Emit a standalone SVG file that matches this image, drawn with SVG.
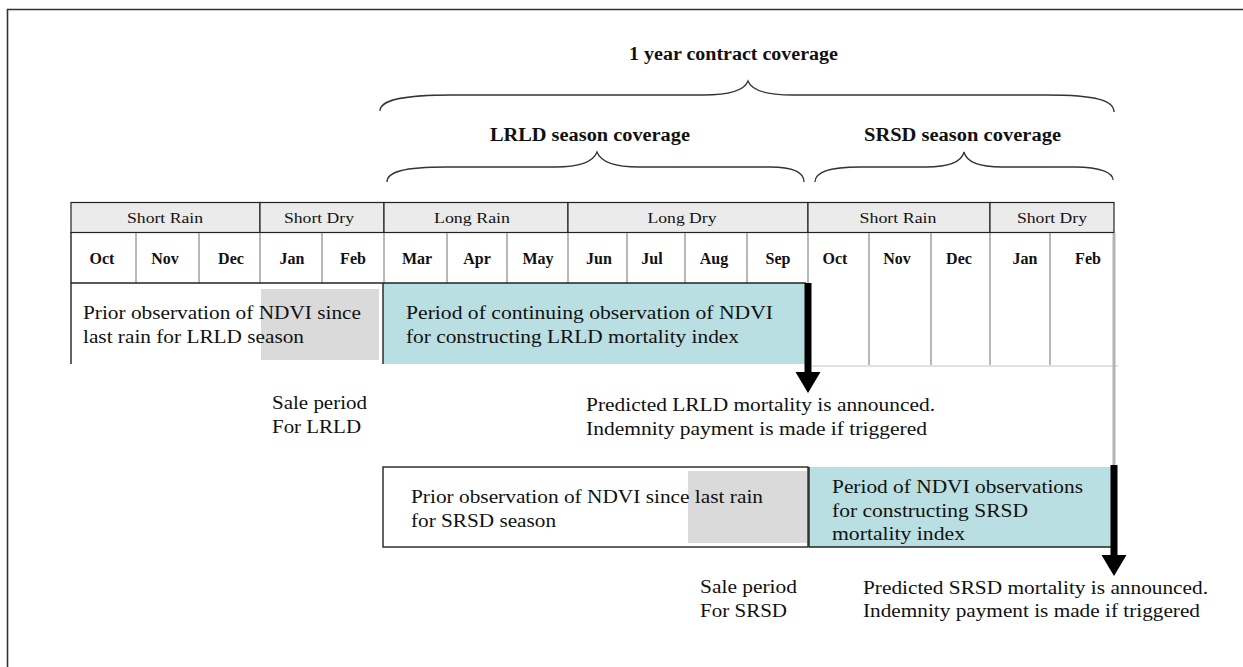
<svg xmlns="http://www.w3.org/2000/svg" width="1243" height="667" viewBox="0 0 1243 667">
<style>
  text { font-family: "Liberation Serif", "Times New Roman", serif; fill: #111; }
  .t { font-size: 18px; }
  .ttl { font-size: 18px; font-weight: bold; }
  .ssn { font-size: 15px; }
  .mon { font-size: 16px; font-weight: bold; }
  .hdr { fill: #ebebeb; stroke: #222; stroke-width: 1.2; }
  .grid { stroke: #a6a6a6; stroke-width: 1.6; }
  .blk { stroke: #222; stroke-width: 1.4; }
  .brace { fill: none; stroke: #333; stroke-width: 1.3; }
  .teal { fill: #b9dfe2; }
  .shade { fill: #dadada; }
</style>
<defs>
  <marker id="head" markerUnits="userSpaceOnUse" markerWidth="22" markerHeight="26" refX="0" refY="12.5" orient="auto">
    <path d="M0,0 L21,12.5 L0,25 z" fill="#000"/>
  </marker>
</defs>
<rect width="1243" height="667" fill="#fff"/>
<g id="frame">
  <line x1="7" y1="9.5" x2="1243" y2="9.5" stroke="#333" stroke-width="1.6"/>
  <line x1="7.5" y1="9" x2="7.5" y2="667" stroke="#333" stroke-width="1.6"/>
</g>

<g id="braces">
  <path class="brace" d="M380,111 C380,101 398,95 452,95 L703,95 C732,95 745,89 748,81 C751,89 764,95 793,95 L1046,95 C1098,95 1114,101 1114,112"/>
  <path class="brace" d="M387,182 C387,172 403,167 447,167 L555,167 C584,167 594,160 597,152 C600,160 610,167 639,167 L770,167 C795,167 804,173 804,182"/>
  <path class="brace" d="M815,182 C815,172 828,167 860,167 L926,167 C953,167 962,160 964,152 C966,160 975,167 1002,167 L1075,167 C1101,167 1113,173 1113,180"/>
  <text class="ttl" x="629" y="60" textLength="209" lengthAdjust="spacingAndGlyphs">1 year contract coverage</text>
  <text class="ttl" x="490" y="141" textLength="200" lengthAdjust="spacingAndGlyphs">LRLD season coverage</text>
  <text class="ttl" x="864" y="141" textLength="197" lengthAdjust="spacingAndGlyphs">SRSD season coverage</text>
</g>

<g id="seasons">
  <rect class="hdr" x="71" y="202.5" width="189" height="30"/>
  <rect class="hdr" x="260" y="202.5" width="124" height="30"/>
  <rect class="hdr" x="384" y="202.5" width="184" height="30"/>
  <rect class="hdr" x="568" y="202.5" width="240" height="30"/>
  <rect class="hdr" x="808" y="202.5" width="182" height="30"/>
  <rect class="hdr" x="990" y="202.5" width="124" height="30"/>
  <text class="ssn" x="165" y="223" text-anchor="middle" textLength="76" lengthAdjust="spacingAndGlyphs">Short Rain</text>
  <text class="ssn" x="319" y="223" text-anchor="middle" textLength="70" lengthAdjust="spacingAndGlyphs">Short Dry</text>
  <text class="ssn" x="472" y="223" text-anchor="middle" textLength="76" lengthAdjust="spacingAndGlyphs">Long Rain</text>
  <text class="ssn" x="682" y="223" text-anchor="middle" textLength="69" lengthAdjust="spacingAndGlyphs">Long Dry</text>
  <text class="ssn" x="898" y="223" text-anchor="middle" textLength="77" lengthAdjust="spacingAndGlyphs">Short Rain</text>
  <text class="ssn" x="1052" y="223" text-anchor="middle" textLength="70" lengthAdjust="spacingAndGlyphs">Short Dry</text>
</g>

<g id="months">
  <line class="grid" x1="136" y1="233" x2="136" y2="283"/>
  <line class="grid" x1="199" y1="233" x2="199" y2="283"/>
  <line class="grid" x1="260" y1="233" x2="260" y2="283"/>
  <line class="grid" x1="322" y1="233" x2="322" y2="283"/>
  <line class="grid" x1="384" y1="233" x2="384" y2="283"/>
  <line class="grid" x1="447" y1="233" x2="447" y2="283"/>
  <line class="grid" x1="507" y1="233" x2="507" y2="283"/>
  <line class="grid" x1="568" y1="233" x2="568" y2="283"/>
  <line class="grid" x1="627" y1="233" x2="627" y2="283"/>
  <line class="grid" x1="685" y1="233" x2="685" y2="283"/>
  <line class="grid" x1="747" y1="233" x2="747" y2="283"/>
  <line class="grid" x1="808" y1="233" x2="808" y2="283"/>
  <line class="grid" x1="869" y1="233" x2="869" y2="365"/>
  <line class="grid" x1="931" y1="233" x2="931" y2="365"/>
  <line class="grid" x1="990" y1="233" x2="990" y2="365"/>
  <line class="grid" x1="1050" y1="233" x2="1050" y2="365"/>
  <line x1="812" y1="366" x2="1118" y2="366" stroke="#c4c4c4" stroke-width="1"/>
  <line x1="1114" y1="233" x2="1114" y2="466" stroke="#b3b3b3" stroke-width="3"/>
  <line class="blk" x1="71" y1="232" x2="71" y2="364"/>
  <text class="mon" x="102" y="264" text-anchor="middle">Oct</text>
  <text class="mon" x="165" y="264" text-anchor="middle">Nov</text>
  <text class="mon" x="231" y="264" text-anchor="middle">Dec</text>
  <text class="mon" x="292" y="264" text-anchor="middle">Jan</text>
  <text class="mon" x="353" y="264" text-anchor="middle">Feb</text>
  <text class="mon" x="417" y="264" text-anchor="middle">Mar</text>
  <text class="mon" x="477" y="264" text-anchor="middle">Apr</text>
  <text class="mon" x="538" y="264" text-anchor="middle">May</text>
  <text class="mon" x="599" y="264" text-anchor="middle">Jun</text>
  <text class="mon" x="652" y="264" text-anchor="middle">Jul</text>
  <text class="mon" x="714" y="264" text-anchor="middle">Aug</text>
  <text class="mon" x="778" y="264" text-anchor="middle">Sep</text>
  <text class="mon" x="835" y="264" text-anchor="middle">Oct</text>
  <text class="mon" x="897" y="264" text-anchor="middle">Nov</text>
  <text class="mon" x="959" y="264" text-anchor="middle">Dec</text>
  <text class="mon" x="1025" y="264" text-anchor="middle">Jan</text>
  <text class="mon" x="1088" y="264" text-anchor="middle">Feb</text>
</g>

<g id="lrld-prior">
  <rect class="shade" x="261" y="289" width="118" height="71"/>
  <text class="t" x="83" y="319" textLength="278" lengthAdjust="spacingAndGlyphs">Prior observation of NDVI since</text>
  <text class="t" x="83" y="343" textLength="221" lengthAdjust="spacingAndGlyphs">last rain for LRLD season</text>
</g>

<g id="lrld-period">
  <rect class="teal" x="383" y="283" width="423" height="81"/>
  <line class="blk" x1="383" y1="283" x2="383" y2="364"/>
  <text class="t" x="406" y="319" textLength="367" lengthAdjust="spacingAndGlyphs">Period of continuing observation of NDVI</text>
  <text class="t" x="406" y="343" textLength="333" lengthAdjust="spacingAndGlyphs">for constructing LRLD mortality index</text>
</g>
<line class="blk" x1="71" y1="283" x2="806" y2="283"/>

<g id="lrld-sale">
  <text class="t" x="272" y="409" textLength="95" lengthAdjust="spacingAndGlyphs">Sale period</text>
  <text class="t" x="272" y="433" textLength="89" lengthAdjust="spacingAndGlyphs">For LRLD</text>
</g>

<g id="lrld-announce">
  <text class="t" x="586" y="411" textLength="349" lengthAdjust="spacingAndGlyphs">Predicted LRLD mortality is announced.</text>
  <text class="t" x="586" y="435" textLength="341" lengthAdjust="spacingAndGlyphs">Indemnity payment is made if triggered</text>
</g>

<g id="srsd-prior">
  <rect x="383" y="467" width="425" height="80" fill="#fff" stroke="#222" stroke-width="1.4"/>
  <rect class="shade" x="688" y="471" width="119" height="72"/>
  <text class="t" x="411" y="503" textLength="352" lengthAdjust="spacingAndGlyphs">Prior observation of NDVI since last rain</text>
  <text class="t" x="411" y="527" textLength="145" lengthAdjust="spacingAndGlyphs">for SRSD season</text>
</g>

<g id="srsd-period">
  <rect class="teal" x="809" y="467" width="303" height="80"/>
  <line class="blk" x1="809" y1="467" x2="809" y2="547"/>
  <line class="blk" x1="809" y1="547" x2="1112" y2="547"/>
  <text class="t" x="832" y="493" textLength="251" lengthAdjust="spacingAndGlyphs">Period of NDVI observations</text>
  <text class="t" x="832" y="517" textLength="196" lengthAdjust="spacingAndGlyphs">for constructing SRSD</text>
  <text class="t" x="832" y="540" textLength="133" lengthAdjust="spacingAndGlyphs">mortality index</text>
</g>

<g id="srsd-sale">
  <text class="t" x="700" y="593" textLength="97" lengthAdjust="spacingAndGlyphs">Sale period</text>
  <text class="t" x="700" y="617" textLength="87" lengthAdjust="spacingAndGlyphs">For SRSD</text>
</g>

<g id="srsd-announce">
  <text class="t" x="863" y="594" textLength="345" lengthAdjust="spacingAndGlyphs">Predicted SRSD mortality is announced.</text>
  <text class="t" x="863" y="617" textLength="337" lengthAdjust="spacingAndGlyphs">Indemnity payment is made if triggered</text>
</g>

<g id="connectors">
  <line x1="808" y1="283" x2="808" y2="372" stroke="#000" stroke-width="7" marker-end="url(#head)"/>
  <line x1="1114" y1="465" x2="1114" y2="555" stroke="#000" stroke-width="7" marker-end="url(#head)"/>
</g>
</svg>
